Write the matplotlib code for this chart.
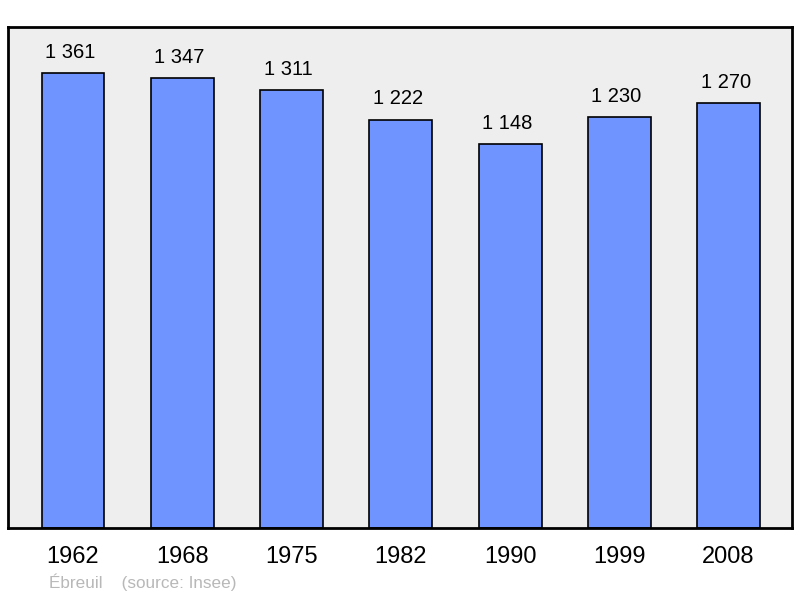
import matplotlib.pyplot as plt

plt.rcParams['font.family'] = ['Liberation Sans', 'DejaVu Sans']

# population data
years = ['1962', '1968', '1975', '1982', '1990', '1999', '2008']
population = [1361, 1347, 1311, 1222, 1148, 1230, 1270]
labels = ['1 361', '1 347', '1 311', '1 222', '1 148', '1 230', '1 270']

fig = plt.figure(figsize=(8, 5.98), dpi=100)
ax = fig.add_axes([0.01, 0.117, 0.98, 0.838])
ax.set_facecolor('#eeeeee')

x = range(len(years))
bars = ax.bar(x, population, width=0.576, color='#7094ff',
              edgecolor='black', linewidth=1.2, zorder=2)

# value labels above each bar
for b, lab in zip(bars, labels):
    ax.annotate(lab, (b.get_x() + b.get_width() / 2, b.get_height()),
                xytext=(-2, 8), textcoords='offset points',
                ha='center', va='bottom', fontsize=14.5)

ax.set_xlim(-0.595, 6.58)
ax.set_ylim(0, 1499)
ax.set_xticks(list(x))
ax.set_xticklabels(years, fontsize=17)
ax.tick_params(axis='x', length=0, pad=13)
ax.set_yticks([])
for s in ax.spines.values():
    s.set_linewidth(2)

fig.text(0.061, 0.012, 'Ébreuil    (source: Insee)', fontsize=12.3,
         color='#b8b8b8', ha='left', va='bottom')

fig.savefig('out.png', dpi=100)
